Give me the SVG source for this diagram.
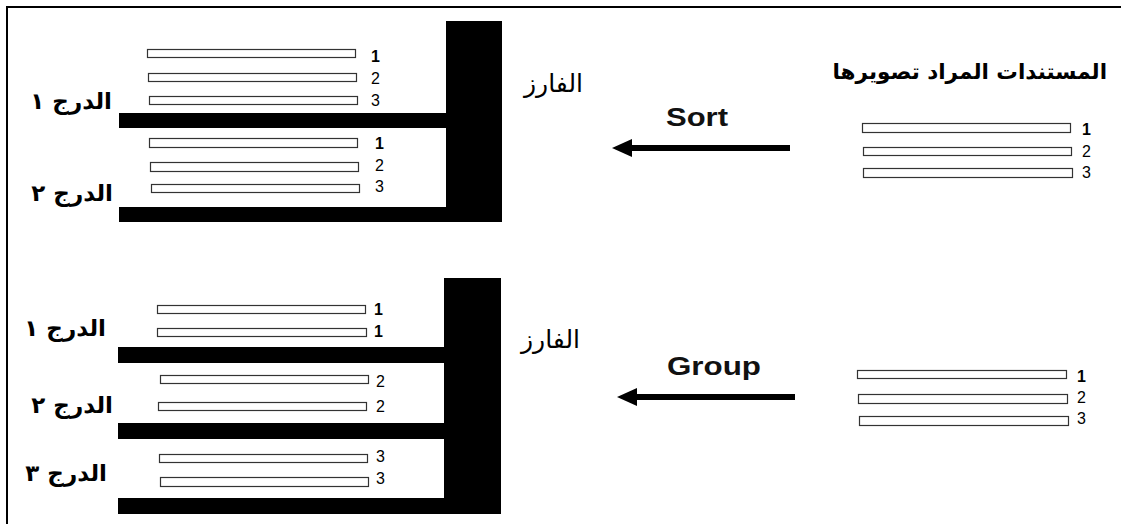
<svg xmlns="http://www.w3.org/2000/svg" width="1121" height="524" viewBox="0 0 1121 524">
  <defs>
    <style>
      .frame { fill: none; stroke: #000; stroke-width: 2; }
      .solid { fill: #000; }
      .sheet { fill: #fff; stroke: #333; stroke-width: 1.2; }
      .num { font-family: "Liberation Sans", Arial, sans-serif; font-size: 16px; fill: #000; }
      .num.b { font-weight: bold; }
      .ar { font-family: "DejaVu Sans", "Noto Sans", sans-serif; fill: #000; text-anchor: end; }
      .tray { font-size: 23px; font-weight: bold; }
      .sorter { font-size: 25px; }
      .lbl { font-family: "Liberation Sans", Arial, sans-serif; font-size: 26px; font-weight: bold; fill: #111; }
      .arrow { stroke: #000; stroke-width: 6; fill: none; }
    </style>
    <marker id="head" markerUnits="userSpaceOnUse" markerWidth="22" markerHeight="20" refX="2" refY="9" orient="auto">
      <path d="M0,0 L20,9 L0,18 Z" fill="#000"/>
    </marker>
  </defs>

  <rect width="1121" height="524" fill="#fff"/>

  <!-- outer frame: only the top and left edges are visible -->
  <path class="frame" d="M7,524 V7 H1121"/>

  <!-- ===== upper panel: sort ===== -->
  <g id="sorter-top">
    <rect class="solid" x="446" y="21" width="56" height="201"/>
    <rect class="solid" x="119" y="113" width="330" height="15"/>
    <rect class="solid" x="119" y="207" width="330" height="15"/>
    <text class="ar sorter" x="583" y="92">الفارز</text>
  </g>

  <g id="tray-top-1">
    <text class="ar tray" x="112" y="109">الدرج ١</text>
    <rect class="sheet" x="147.5" y="49.5" width="208" height="8"/>
    <rect class="sheet" x="148.5" y="73.5" width="208" height="8"/>
    <rect class="sheet" x="149.5" y="96.5" width="208" height="8"/>
    <text class="num b" x="371" y="62">1</text>
    <text class="num" x="371" y="84">2</text>
    <text class="num" x="371" y="106">3</text>
  </g>

  <g id="tray-top-2">
    <text class="ar tray" x="113" y="201">الدرج ٢</text>
    <rect class="sheet" x="149.5" y="138.5" width="208" height="9"/>
    <rect class="sheet" x="150.5" y="162.5" width="208" height="9"/>
    <rect class="sheet" x="151.5" y="184.5" width="208" height="8"/>
    <text class="num b" x="375" y="149">1</text>
    <text class="num" x="375" y="171">2</text>
    <text class="num" x="375" y="192">3</text>
  </g>

  <g id="input-top">
    <text class="ar" x="1107" y="79" font-size="21.5" font-weight="bold">المستندات المراد تصويرها</text>
    <rect class="sheet" x="862.5" y="123.5" width="208" height="9"/>
    <rect class="sheet" x="863.5" y="147.5" width="208" height="8"/>
    <rect class="sheet" x="863.5" y="168.5" width="209" height="9"/>
    <text class="num b" x="1082" y="135">1</text>
    <text class="num" x="1082" y="157">2</text>
    <text class="num" x="1082" y="178">3</text>
  </g>

  <!-- ===== lower panel: group ===== -->
  <g id="sorter-bottom">
    <rect class="solid" x="444" y="278" width="57" height="236"/>
    <rect class="solid" x="118" y="347" width="330" height="16"/>
    <rect class="solid" x="118" y="423" width="330" height="16"/>
    <rect class="solid" x="118" y="498" width="330" height="16"/>
    <text class="ar sorter" x="580" y="348">الفارز</text>
  </g>

  <g id="tray-bottom-1">
    <text class="ar tray" x="106" y="336">الدرج ١</text>
    <rect class="sheet" x="157.5" y="305.5" width="208" height="8"/>
    <rect class="sheet" x="157.5" y="328.5" width="209" height="8"/>
    <text class="num b" x="374" y="315">1</text>
    <text class="num b" x="374" y="337">1</text>
  </g>

  <g id="tray-bottom-2">
    <text class="ar tray" x="113" y="413">الدرج ٢</text>
    <rect class="sheet" x="160.5" y="375.5" width="208" height="8"/>
    <rect class="sheet" x="158.5" y="402.5" width="208" height="8"/>
    <text class="num" x="376" y="387">2</text>
    <text class="num" x="376" y="412">2</text>
  </g>

  <g id="tray-bottom-3">
    <text class="ar tray" x="107" y="481">الدرج ٣</text>
    <rect class="sheet" x="159.5" y="454.5" width="208" height="8"/>
    <rect class="sheet" x="160.5" y="477.5" width="208" height="9"/>
    <text class="num" x="376" y="462">3</text>
    <text class="num" x="376" y="484">3</text>
  </g>

  <g id="input-bottom">
    <rect class="sheet" x="857.5" y="370.5" width="209" height="8"/>
    <rect class="sheet" x="858.5" y="394.5" width="209" height="9"/>
    <rect class="sheet" x="859.5" y="416.5" width="209" height="9"/>
    <text class="num b" x="1077" y="382">1</text>
    <text class="num" x="1077" y="403">2</text>
    <text class="num" x="1077" y="424">3</text>
  </g>

  <!-- ===== connectors ===== -->
  <g id="connectors">
    <g id="sort-arrow">
      <line class="arrow" x1="790" y1="148" x2="630" y2="148" marker-end="url(#head)"/>
      <text class="lbl" x="666" y="126" textLength="62" lengthAdjust="spacingAndGlyphs">Sort</text>
    </g>
    <g id="group-arrow">
      <line class="arrow" x1="795" y1="397" x2="635" y2="397" marker-end="url(#head)"/>
      <text class="lbl" x="667" y="375" textLength="94" lengthAdjust="spacingAndGlyphs">Group</text>
    </g>
  </g>
</svg>
